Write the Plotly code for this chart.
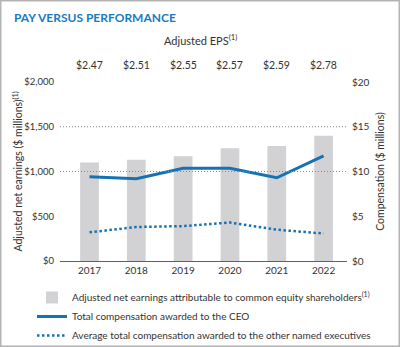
import plotly.graph_objects as go

# ---- data ----
years = ["2017", "2018", "2019", "2020", "2021", "2022"]
eps_labels = ["$2.47", "$2.51", "$2.55", "$2.57", "$2.59", "$2.78"]
net_earnings = [1100, 1130, 1170, 1260, 1285, 1400]       # $ millions (left axis)
ceo_comp = [9.4, 9.2, 10.35, 10.35, 9.3, 11.75]           # $ millions (right axis)
neo_comp = [3.2, 3.8, 3.9, 4.3, 3.5, 3.07]                # $ millions (right axis)
left_ticks = [0, 500, 1000, 1500, 2000]
left_ticktext = ["$0", "$500", "$1,000", "$1,500", "$2,000"]
right_ticks = [0, 5, 10, 15, 20]
right_ticktext = ["$0", "$5", "$10", "$15", "$20"]
grid_values = [1000, 1500]

# ---- style ----
W, H = 400, 347
ML, MR, MT, MB = 60, 53, 82, 86
BLUE = "#1672b3"
TITLE_BLUE = "#1a7abf"
GRAY_BAR = "#d2d2d4"
TXT = "#333333"
FONT = "Lato"

fig = go.Figure()
fig.add_trace(go.Bar(
    x=years, y=net_earnings, yaxis="y", width=0.4,
    marker=dict(color=GRAY_BAR, line=dict(width=0)),
    name="Adjusted net earnings attributable to common equity shareholders<sup>(1)</sup>",
))
fig.add_trace(go.Scatter(
    x=years, y=ceo_comp, yaxis="y2", mode="lines",
    line=dict(color=BLUE, width=3),
    name="Total compensation awarded to the CEO",
))
fig.add_trace(go.Scatter(
    x=years, y=neo_comp, yaxis="y2", mode="lines",
    line=dict(color=BLUE, width=2.5, dash="2.5px,2.5px"),
    name="Average total compensation awarded to the other named executives",
))

pw = W - ML - MR
ph = H - MT - MB

shapes = []
for g in grid_values:
    shapes.append(dict(type="line", xref="paper", yref="y", x0=0, x1=1, y0=g, y1=g,
                       line=dict(color="#8a8a8a", width=1, dash="1px,2px"), layer="above"))
# outer border
shapes.append(dict(type="rect", xref="paper", yref="paper",
                   x0=(0.75 - ML) / pw, x1=(W - 0.75 - ML) / pw,
                   y0=-(H - 0.75 - MT - ph) / ph, y1=(MT - 0.75) / ph + 1,
                   line=dict(color="#b4b4b4", width=1.5), layer="below"))

annotations = [
    dict(text="<b>PAY VERSUS PERFORMANCE</b>", xref="paper", yref="paper",
         x=(12 - ML) / pw, y=1 + (MT - 18) / ph, xanchor="left", yanchor="middle",
         showarrow=False, font=dict(family=FONT, size=12, color=TITLE_BLUE)),
    dict(text="Adjusted EPS<sup>(1)</sup>", xref="paper", yref="paper",
         x=(200 - ML) / pw, y=1 + (MT - 40) / ph, xanchor="center", yanchor="middle",
         showarrow=False, font=dict(family=FONT, size=11, color=TXT)),
    dict(text="Adjusted net earnings ($ millions)<sup>(1)</sup>", xref="paper", yref="paper",
         x=(17 - ML) / pw, y=0.5, xanchor="center", yanchor="middle", textangle=-90,
         showarrow=False, font=dict(family=FONT, size=10.5, color=TXT)),
]
for i, lab in enumerate(eps_labels):
    annotations.append(dict(text=lab, x=i, xref="x", yref="paper",
                            y=1 + (MT - 65) / ph, xanchor="center", yanchor="middle",
                            showarrow=False, font=dict(family=FONT, size=10.5, color=TXT)))

fig.update_layout(
    width=W, height=H,
    margin=dict(l=ML, r=MR, t=MT, b=MB, pad=0, autoexpand=False),
    paper_bgcolor="white", plot_bgcolor="white",
    font=dict(family=FONT, size=10, color=TXT),
    showlegend=True,
    legend=dict(x=(32 - ML) / pw, y=-(283 - MT - ph) / ph, xanchor="left", yanchor="top",
                orientation="v", bgcolor="rgba(0,0,0,0)", borderwidth=0,
                font=dict(family=FONT, size=10, color=TXT), tracegroupgap=0),
    xaxis=dict(type="category", range=[-0.63, 5.5], showgrid=False, zeroline=False,
               showline=True, linecolor="#606060", linewidth=1.2, ticks="",
               tickfont=dict(family=FONT, size=10, color=TXT)),
    yaxis=dict(range=[0, 2000], tickvals=left_ticks, ticktext=left_ticktext,
               showgrid=False, zeroline=False, showline=False, ticks="",
               ticklabelstandoff=5,
               tickfont=dict(family=FONT, size=9.5, color=TXT)),
    yaxis2=dict(range=[0, 20], overlaying="y", side="right", tickvals=right_ticks,
                ticktext=right_ticktext, showgrid=False, zeroline=False, showline=False,
                ticks="", ticklabelstandoff=4,
                tickfont=dict(family=FONT, size=10, color=TXT),
                title=dict(text="Compensation ($ millions)",
                           font=dict(family=FONT, size=10.5, color=TXT), standoff=8)),
    shapes=shapes,
    annotations=annotations,
    bargap=0.5,
)

fig.write_html("out.html")
